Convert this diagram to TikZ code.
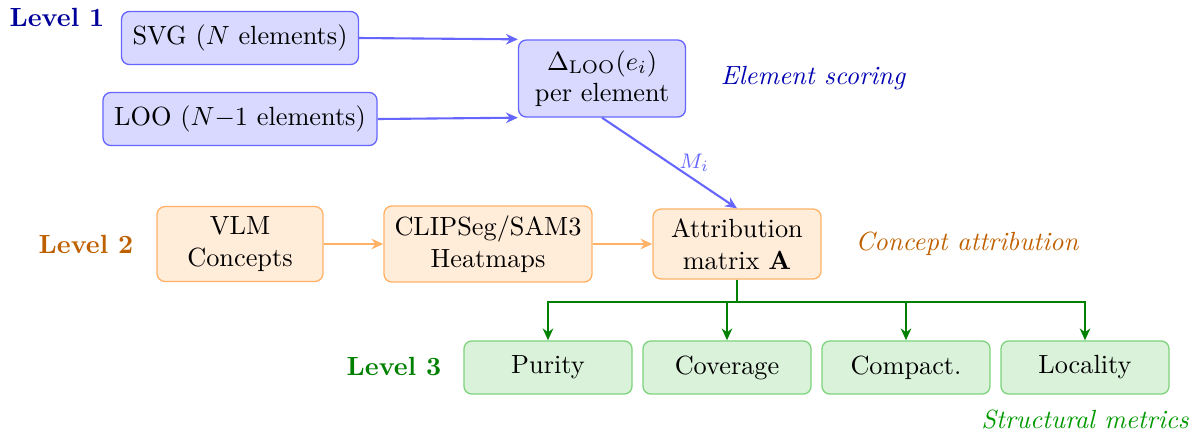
\documentclass[tikz,border=0pt]{standalone}
\usetikzlibrary{arrows.meta}
\definecolor{gfill}{RGB}{218,242,218}
\definecolor{gline}{RGB}{125,212,125}
\tikzset{
  box/.style={draw, rounded corners=3pt, line width=0.5pt, align=center, inner sep=0pt},
  bluebox/.style={box, draw=blue!60, fill=blue!15},
  orgbox/.style={box, draw=orange!60, fill=orange!15},
  grnbox/.style={box, draw=gline, fill=gfill, minimum width=63.9pt, minimum height=20.2pt},
  tipstyle/.style={-{Stealth[length=4.5pt,width=4pt]}},
  barrow/.style={tipstyle, draw=blue!60, line width=0.8pt},
  oarrow/.style={tipstyle, draw=orange!60, line width=0.8pt},
  garrow/.style={tipstyle, draw=green!50!black, line width=0.8pt},
  lvl/.style={font=\bfseries},
  captext/.style={font=\itshape}
}
\begin{document}
\begin{tikzpicture}[x=0.013369cm, y=-0.013369cm]
\useasboundingbox (0,0) rectangle (1197,436);
% Level 1
\node[lvl, text=blue!60!black] (l1) at (57,17) {Level 1};
\node[bluebox, minimum width=90.1pt, minimum height=20.2pt] (svg) at (240,38) {SVG ($N$ elements)};
\node[bluebox, minimum width=104.2pt, minimum height=20.2pt] (loo) at (240,119) {LOO ($N{-}1$ elements)};
\node[bluebox, minimum width=63.5pt, minimum height=29.3pt] (delta) at (602,78.5) {$\Delta_{\mathrm{LOO}}(e_i)$\\per element};
\node[captext, text=blue!70!black] (c1) at (813,78) {Element scoring};
% Level 2
\node[lvl, text=orange!75!black] (l2) at (86,244) {Level 2};
\node[orgbox, minimum width=63.1pt, minimum height=28.5pt] (vlm) at (240,244) {VLM\\Concepts};
\node[orgbox, minimum width=79.1pt, minimum height=28.9pt] (clip) at (488,244) {CLIPSeg/SAM3\\Heatmaps};
\node[orgbox, minimum width=63.9pt, minimum height=26.6pt] (attr) at (737,244) {Attribution\\matrix $\mathbf{A}$};
\node[captext, text=orange!75!black] (c2) at (967,244) {Concept attribution};
% Level 3
\node[lvl, text=green!50!black] (l3) at (394,367) {Level 3};
\node[grnbox] (pur) at (548,367.5) {Purity};
\node[grnbox] (cov) at (727,367.5) {Coverage};
\node[grnbox] (com) at (906,367.5) {Compact.};
\node[grnbox] (loc) at (1085,367.5) {Locality};
\node[captext, text=green!60!black] (c3) at (1085,420) {Structural metrics};
% connectors
\draw[barrow] (svg.east) -- (delta.north west);
\draw[barrow] (loo.east) -- (delta.south west);
\draw[barrow] (delta.south) -- node[midway, right, font=\footnotesize, text=blue!60] {$M_i$} (attr.north);
\draw[oarrow] (vlm) -- (clip);
\draw[oarrow] (clip) -- (attr);
\coordinate (bus) at (737,302);
\draw[garrow] (attr.south) -- (bus) -| (pur.north);
\draw[garrow] (attr.south) -- (bus) -| (cov.north);
\draw[garrow] (attr.south) -- (bus) -| (com.north);
\draw[garrow] (attr.south) -- (bus) -| (loc.north);
\end{tikzpicture}
\end{document}
